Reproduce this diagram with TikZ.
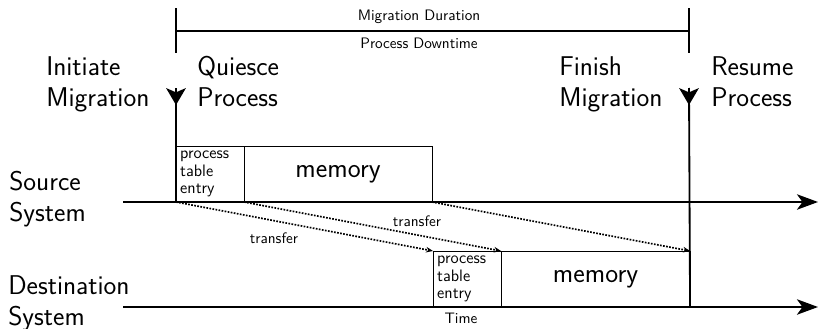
\documentclass[tikz,border=0pt]{standalone}
\usepackage{tikz}
\usetikzlibrary{arrows.meta,positioning,calc}
\renewcommand{\familydefault}{\sfdefault}

\begin{document}
\begin{tikzpicture}[
    x=0.025cm, y=-0.025cm,
    axis/.style={line width=1.3pt, -{Stealth[length=15pt, width=11pt, inset=4pt]}},
    marker/.style={line width=1.3pt},
    event/.style={line width=1.3pt, -{Stealth[length=12pt, width=14pt, inset=3pt]}},
    biglabel/.style={align=left, inner sep=0pt, anchor=base west, font=\fontsize{19.3}{21.5}\selectfont},
    pte/.style={draw, line width=0.6pt, outer sep=0pt, text width=1.7cm-6pt, inner xsep=3pt, minimum height=1.4cm, align=left, font=\fontsize{11.8}{12.2}\selectfont},
    mem/.style={draw, line width=0.6pt, outer sep=0pt, minimum height=1.4cm, font=\fontsize{19.5}{22}\selectfont},
    xfer/.style={densely dotted, line width=1.2pt, -{Stealth[length=5pt, width=4pt]}},
    small/.style={font=\fontsize{10.8}{12}\selectfont},
]
    \useasboundingbox (0,0) rectangle (818,329);

    % time axes
    \coordinate (srcaxis) at (123,202);
    \coordinate (dstaxis) at (123,307);
    \draw[axis] (srcaxis) -- (818,202);
    \draw[axis] (dstaxis) -- (818,307);

    \node[biglabel] (source) at (9,221) {Source\\System};
    \node[biglabel] (destination) at (8,325) {Destination\\System};
    \node[small] (time) at (461,318) {Time};

    % data blocks
    \node[pte, anchor=south west] (srcpte) at (176,202) {process\\table\\entry};
    \node[mem, minimum width=4.7cm, right=0pt of srcpte] (srcmem) {memory};
    \node[pte, anchor=south west] (dstpte) at (433,307) {process\\table\\entry};
    \node[mem, minimum width=4.725cm, right=0pt of dstpte] (dstmem) {memory};

    % events
    \coordinate (quiesce) at (176,88);
    \coordinate (finish) at (689,88);
    \draw[marker] (quiesce) -- (srcpte.south west);
    \draw[event] (quiesce) -- ++(0,17);
    \draw[marker] (finish) -- (dstmem.south east);
    \draw[event] (finish) -- ++(0,17);

    \node[biglabel] (initiate) at (46,106) {Initiate\\Migration};
    \node[biglabel] (quiescelab) at (197,106) {Quiesce\\Process};
    \node[biglabel] (finishlab) at (559,106) {Finish\\Migration};
    \node[biglabel] (resume) at (711,106) {Resume\\Process};

    % durations
    \coordinate (durstart) at (176,31);
    \coordinate (durend) at (689,31);
    \draw[marker] (durstart) -- (durend);
    \draw[marker] ($(durstart)+(0,-23)$) -- ($(durstart)+(0,22)$);
    \draw[marker] ($(durend)+(0,-23)$) -- ($(durend)+(0,22)$);
    \node[small] (migdur) at (419,17) {Migration Duration};
    \node[small] (downtime) at (419,43) {Process Downtime};

    % transfers
    \draw[xfer] (srcpte.south west) -- (dstpte.north west);
    \draw[xfer] (srcmem.south west) -- (dstmem.north west);
    \draw[xfer] (srcmem.south east) -- (dstmem.north east);
    \node[small] (xferpte) at (274,238) {transfer};
    \node[small] (xfermem) at (417,221) {transfer};
\end{tikzpicture}
\end{document}
